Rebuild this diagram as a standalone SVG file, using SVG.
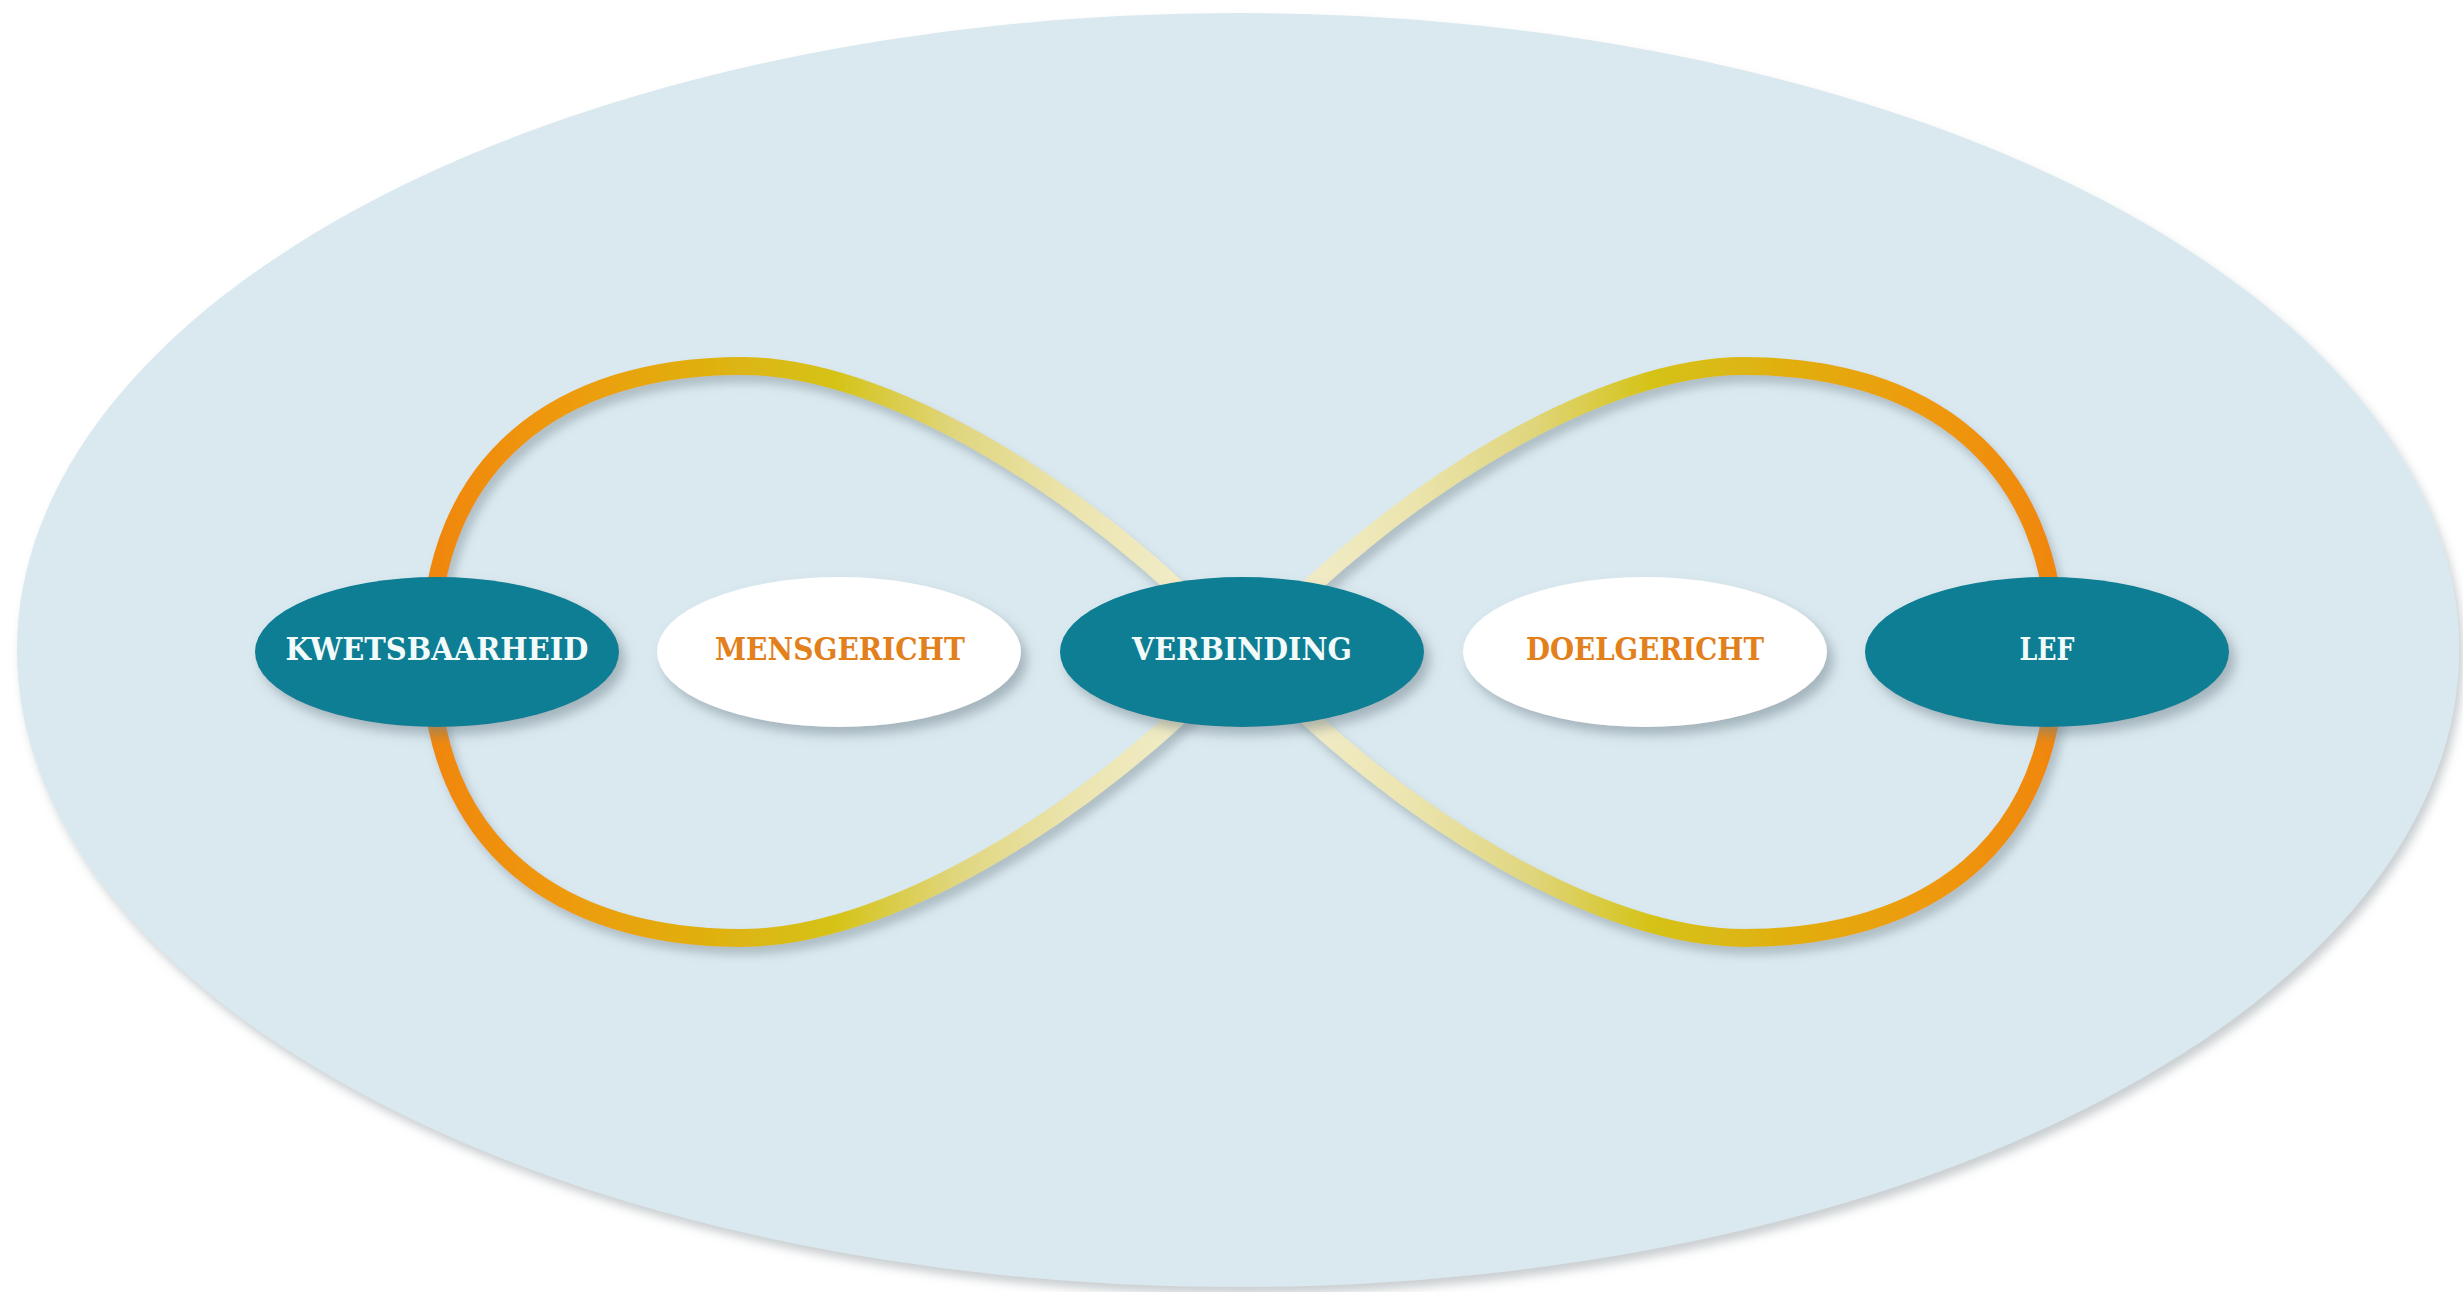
<svg xmlns="http://www.w3.org/2000/svg" width="2463" height="1292" viewBox="0 0 2463 1292">
  <defs>
    <style>
      .lbl { font-family: "DejaVu Serif", "Liberation Serif", serif; font-weight: bold; font-size: 31px; text-anchor: middle; }
      .onteal { fill: #F2FAFA; }
      .onwhite { fill: #E2801C; }
      .teal { fill: #0A7E94; }
      .white { fill: #FFFFFF; }
      .loop { fill: none; stroke-width: 18; stroke-linecap: round; }
    </style>
    <filter id="bgShadow" x="-5%" y="-5%" width="110%" height="112%">
      <feDropShadow dx="4" dy="7" stdDeviation="5" flood-color="#8A9499" flood-opacity="0.45"/>
    </filter>
    <filter id="lineShadow" x="-10%" y="-10%" width="120%" height="130%">
      <feDropShadow dx="5" dy="8" stdDeviation="5" flood-color="#7C8C94" flood-opacity="0.45"/>
    </filter>
    <filter id="nodeShadow" x="-15%" y="-20%" width="135%" height="150%">
      <feDropShadow dx="6" dy="8" stdDeviation="6" flood-color="#6E7F88" flood-opacity="0.5"/>
    </filter>
    <linearGradient id="gradL" gradientUnits="userSpaceOnUse" x1="430" y1="0" x2="1243" y2="0">
      <stop offset="0" stop-color="#F0860A"/>
      <stop offset="0.16" stop-color="#EE9A0C"/>
      <stop offset="0.38" stop-color="#DDB512"/>
      <stop offset="0.5" stop-color="#D5C318"/>
      <stop offset="0.65" stop-color="#E0D680"/>
      <stop offset="0.8" stop-color="#ECE5B0"/>
      <stop offset="1" stop-color="#F4F0D6"/>
    </linearGradient>
    <linearGradient id="gradR" gradientUnits="userSpaceOnUse" x1="2056" y1="0" x2="1243" y2="0">
      <stop offset="0" stop-color="#F0860A"/>
      <stop offset="0.16" stop-color="#EE9A0C"/>
      <stop offset="0.38" stop-color="#DDB512"/>
      <stop offset="0.5" stop-color="#D5C318"/>
      <stop offset="0.65" stop-color="#E0D680"/>
      <stop offset="0.8" stop-color="#ECE5B0"/>
      <stop offset="1" stop-color="#F4F0D6"/>
    </linearGradient>
  </defs>

  <rect width="2463" height="1292" fill="#FFFFFF"/>
  <ellipse id="background" cx="1238" cy="650" rx="1221" ry="637" fill="#DAE9EF" filter="url(#bgShadow)"/>

  <g id="connectors" filter="url(#lineShadow)">
    <path class="loop" stroke="url(#gradL)" d="M1243,653 C1080,480 880,366 742,366 C560,366 430,460 430,653 C430,846 560,938 742,938 C880,938 1080,826 1243,653"/>
    <path class="loop" stroke="url(#gradR)" d="M1243,653 C1406,480 1606,366 1744,366 C1926,366 2056,460 2056,653 C2056,846 1926,938 1744,938 C1606,938 1406,826 1243,653"/>
  </g>

  <g id="node-kwetsbaarheid">
    <ellipse class="teal" cx="437" cy="652" rx="182" ry="75" filter="url(#nodeShadow)"/>
    <text class="lbl onteal" x="437" y="660" textLength="303" lengthAdjust="spacingAndGlyphs">KWETSBAARHEID</text>
  </g>
  <g id="node-mensgericht">
    <ellipse class="white" cx="839" cy="652" rx="182" ry="75" filter="url(#nodeShadow)"/>
    <text class="lbl onwhite" x="840" y="660" textLength="250" lengthAdjust="spacingAndGlyphs">MENSGERICHT</text>
  </g>
  <g id="node-verbinding">
    <ellipse class="teal" cx="1242" cy="652" rx="182" ry="75" filter="url(#nodeShadow)"/>
    <text class="lbl onteal" x="1242" y="660" textLength="220" lengthAdjust="spacingAndGlyphs">VERBINDING</text>
  </g>
  <g id="node-doelgericht">
    <ellipse class="white" cx="1645" cy="652" rx="182" ry="75" filter="url(#nodeShadow)"/>
    <text class="lbl onwhite" x="1645" y="660" textLength="238" lengthAdjust="spacingAndGlyphs">DOELGERICHT</text>
  </g>
  <g id="node-lef">
    <ellipse class="teal" cx="2047" cy="652" rx="182" ry="75" filter="url(#nodeShadow)"/>
    <text class="lbl onteal" x="2047" y="660" textLength="55" lengthAdjust="spacingAndGlyphs">LEF</text>
  </g>
</svg>
